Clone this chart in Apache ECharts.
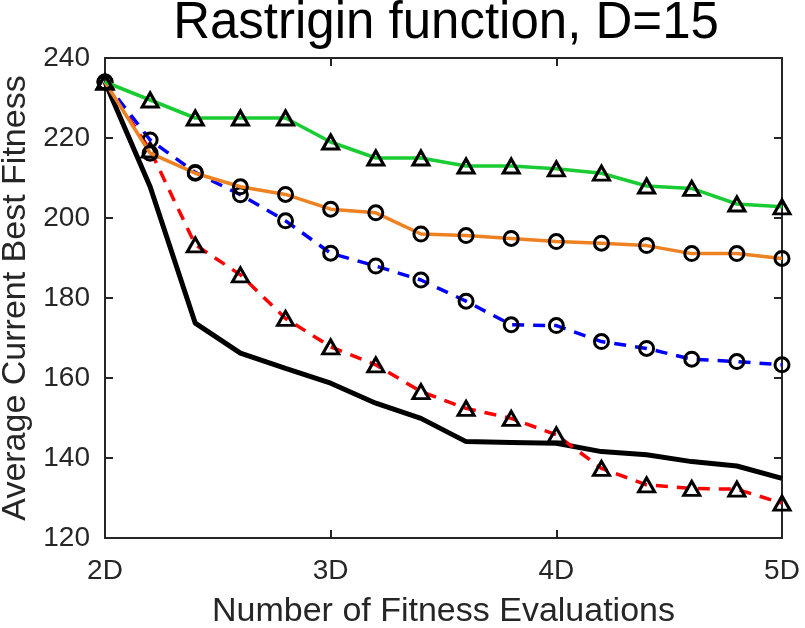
<!DOCTYPE html>
<html>
<head>
<meta charset="utf-8">
<script src="https://cdn.jsdelivr.net/npm/echarts@6/dist/echarts.min.js"></script>
<style>
  html, body { margin: 0; padding: 0; background: #fff; }
  #main { width: 805px; height: 628px; }
</style>
</head>
<body>
<div id="main"></div>
<script>
// evaluations, in units of D
var evals = [2.0, 2.2, 2.4, 2.6, 2.8, 3.0, 3.2, 3.4, 3.6, 3.8, 4.0, 4.2, 4.4, 4.6, 4.8, 5.0];

var greenTri  = [234, 229.5, 225, 225, 225, 219, 215, 215, 213, 213, 212.3, 211.2, 208, 207.4, 203.5, 202.8];
var orangeCir = [234, 216.2, 211.2, 207.8, 205.9, 202.2, 201.3, 196, 195.6, 194.9, 194.1, 193.7, 193.1, 191.1, 191.1, 189.9];
var blueCir   = [234, 219.5, 211.4, 205.8, 199.3, 191.2, 188, 184.5, 179.2, 173.3, 173.1, 169.1, 167.4, 164.7, 164.1, 163.3];
var redTri    = [234, 217, 193.3, 185.8, 174.9, 167.8, 163.3, 156.6, 152.4, 149.9, 145.8, 137.4, 133.3, 132.4, 132.2, 128.7];
var blackLine = [234, 207.8, 173.7, 166.2, 162.4, 158.7, 153.7, 149.9, 144.1, 143.9, 143.7, 141.6, 140.8, 139.1, 138, 134.9];

function pairs(ys) {
  return evals.map(function (x, i) { return [x, ys[i]]; });
}

var axisCol = '#262626';
var font = 'Liberation Sans, Arial, sans-serif';

function hollowMarks() {
  return { color: 'rgba(0,0,0,0)', borderColor: '#000', borderWidth: 3 };
}

var chart = echarts.init(document.getElementById('main'));
chart.setOption({
  animation: false,
  backgroundColor: '#fff',
  title: {
    text: 'Rastrigin function, D=15',
    left: 441,
    textAlign: 'center',
    top: -7,
    textStyle: { fontFamily: font, fontSize: 51, fontWeight: 'normal', color: '#000' }
  },
  grid: { left: 105, right: 23, top: 58, bottom: 90, containLabel: false, outerBoundsMode: 'none' },
  xAxis: [
    {
      type: 'value', min: 2, max: 5, interval: 1,
      name: 'Number of Fitness Evaluations',
      nameLocation: 'middle', nameGap: 57,
      nameTextStyle: { fontFamily: font, fontSize: 34, color: axisCol },
      axisLine: { lineStyle: { color: axisCol, width: 2 } },
      axisTick: { inside: true, length: 8, lineStyle: { color: axisCol, width: 2 } },
      axisLabel: { fontFamily: font, fontSize: 28, color: axisCol, margin: 19,
        formatter: function (v) { return v + 'D'; } },
      splitLine: { show: false }
    },
    {
      type: 'value', min: 2, max: 5, interval: 1, position: 'top',
      axisLine: { lineStyle: { color: axisCol, width: 2 } },
      axisTick: { inside: true, length: 8, lineStyle: { color: axisCol, width: 2 } },
      axisLabel: { show: false },
      splitLine: { show: false }
    }
  ],
  yAxis: [
    {
      type: 'value', min: 120, max: 240, interval: 20,
      name: 'Average Current Best Fitness',
      nameLocation: 'middle', nameGap: 71,
      nameTextStyle: { fontFamily: font, fontSize: 34, color: axisCol },
      axisLine: { show: true, lineStyle: { color: axisCol, width: 2 } },
      axisTick: { show: true, inside: true, length: 8, lineStyle: { color: axisCol, width: 2 } },
      axisLabel: { fontFamily: font, fontSize: 28, color: axisCol, margin: 15 },
      splitLine: { show: false }
    },
    {
      type: 'value', min: 120, max: 240, interval: 20, position: 'right',
      axisLine: { show: true, lineStyle: { color: axisCol, width: 2 } },
      axisTick: { show: true, inside: true, length: 8, lineStyle: { color: axisCol, width: 2 } },
      axisLabel: { show: false },
      splitLine: { show: false }
    }
  ],
  series: [
    {
      name: 'black', type: 'line', data: pairs(blackLine),
      showSymbol: false, symbol: 'none',
      lineStyle: { color: '#000', width: 5 }, z: 2
    },
    {
      name: 'red', type: 'line', data: pairs(redTri),
      symbol: 'triangle', symbolSize: [16, 14],
      lineStyle: { color: '#ff0000', width: 3.5, type: [12, 9] },
      itemStyle: hollowMarks(), z: 3
    },
    {
      name: 'blue', type: 'line', data: pairs(blueCir),
      symbol: 'circle', symbolSize: 14,
      lineStyle: { color: '#0000ff', width: 3.5, type: [12, 9] },
      itemStyle: hollowMarks(), z: 4
    },
    {
      name: 'orange', type: 'line', data: pairs(orangeCir),
      symbol: 'circle', symbolSize: 14,
      lineStyle: { color: '#ee8222', width: 3.5 },
      itemStyle: hollowMarks(), z: 5
    },
    {
      name: 'green', type: 'line', data: pairs(greenTri),
      symbol: 'triangle', symbolSize: [16, 14],
      lineStyle: { color: '#19cc33', width: 3.5 },
      itemStyle: hollowMarks(), z: 6
    }
  ]
});
</script>
</body>
</html>
